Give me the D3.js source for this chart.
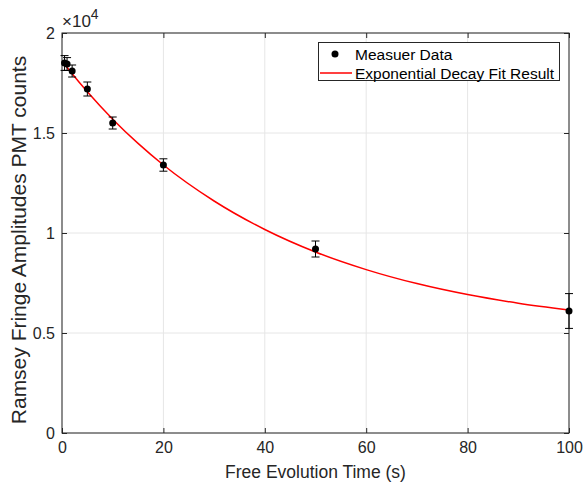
<!DOCTYPE html>
<html><head><meta charset="utf-8">
<script src="https://cdn.jsdelivr.net/npm/d3@7"></script>
<style>body{margin:0;background:#fff;} text{font-family:"Liberation Sans",Arial,sans-serif;}</style>
</head><body><svg id="c" width="584" height="483"></svg>
<script>
// Measured data
const timeS = [0.5, 1, 2, 5, 10, 20, 50, 100];
const amplitude = [18500, 18450, 18100, 17200, 15500, 13400, 9200, 6100];
const errorBar = [370, 320, 300, 350, 300, 310, 400, 870];
// Fit curve
const fitX = [0.5, 2, 5, 10, 15, 20, 30, 40, 50, 60, 70, 80, 90, 100];
const fitY = [18440, 17960, 17060, 15690, 14480, 13400, 11600, 10175, 9050, 8170, 7470, 6920, 6490, 6150];
const xTicks = [0, 20, 40, 60, 80, 100];
const yTicks = [0, 5000, 10000, 15000, 20000];
const yTickLabels = ["0", "0.5", "1", "1.5", "2"];
const legendLabels = ["Measuer Data", "Exponential Decay Fit Result"];

const svg = d3.select("#c");
const L = 62, R = 569, T = 33, B = 433;
const x = d3.scaleLinear().domain([0, 100]).range([L, R]);
const y = d3.scaleLinear().domain([0, 20000]).range([B, T]);
const axisCol = "#262626";

// grid
svg.append("g").selectAll("line").data(xTicks).join("line")
  .attr("x1", d => x(d)).attr("x2", d => x(d)).attr("y1", T).attr("y2", B)
  .attr("stroke", "#e6e6e6").attr("stroke-width", 1);
svg.append("g").selectAll("line").data(yTicks).join("line")
  .attr("y1", d => y(d)).attr("y2", d => y(d)).attr("x1", L).attr("x2", R)
  .attr("stroke", "#e6e6e6").attr("stroke-width", 1);

// axes
const fs = "16px";
const gx = svg.append("g").attr("transform", `translate(0,${B})`)
  .call(d3.axisBottom(x).tickValues(xTicks).tickSizeInner(-5).tickSizeOuter(0).tickPadding(9));
const gy = svg.append("g").attr("transform", `translate(${L},0)`)
  .call(d3.axisLeft(y).tickValues(yTicks).tickFormat((d, i) => yTickLabels[i]).tickSizeInner(-5).tickSizeOuter(0).tickPadding(7));
const gx2 = svg.append("g").attr("transform", `translate(0,${T})`)
  .call(d3.axisTop(x).tickValues(xTicks).tickSizeInner(-5).tickSizeOuter(0).tickFormat(""));
const gy2 = svg.append("g").attr("transform", `translate(${R},0)`)
  .call(d3.axisRight(y).tickValues(yTicks).tickSizeInner(-5).tickSizeOuter(0).tickFormat(""));
[gx, gy, gx2, gy2].forEach(g => {
  g.selectAll("path").attr("stroke", axisCol).attr("stroke-width", 1);
  g.selectAll("line").attr("stroke", axisCol);
  g.selectAll("text").attr("fill", "#262626").style("font-size", fs).style("font-family", "Liberation Sans, Arial, sans-serif");
});
gx.select(".domain").remove(); gy.select(".domain").remove(); gx2.select(".domain").remove(); gy2.select(".domain").remove();
svg.append("rect").attr("x", L).attr("y", T).attr("width", R - L).attr("height", B - T)
  .attr("fill", "none").attr("stroke", axisCol).attr("stroke-width", 1);

// exponent label
const ex = svg.append("text").attr("x", L).attr("y", T - 6).attr("fill", "#262626").style("font-size", "17px");
ex.append("tspan").text("\u00d710");
ex.append("tspan").attr("dy", -8).style("font-size", "14px").text("4");

// axis labels
svg.append("text").attr("x", (L + R) / 2).attr("y", 478).attr("text-anchor", "middle")
  .attr("fill", "#262626").style("font-size", "17.5px").text("Free Evolution Time (s)");
svg.append("text").attr("transform", `translate(26,240) rotate(-90)`).attr("text-anchor", "middle")
  .attr("fill", "#262626").style("font-size", "21px").text("Ramsey Fringe Amplitudes PMT counts");

// fit line
const fitData = fitX.map((d, i) => [d, fitY[i]]);
svg.append("path").datum(fitData)
  .attr("d", d3.line().x(d => x(d[0])).y(d => y(d[1])).curve(d3.curveMonotoneX))
  .attr("fill", "none").attr("stroke", "#ff0000").attr("stroke-width", 1.5);

// error bars
const pts = timeS.map((t, i) => ({t, v: amplitude[i], e: errorBar[i]}));
const eb = svg.append("g").attr("stroke", "#000").attr("stroke-width", 1);
pts.forEach(p => {
  eb.append("line").attr("x1", x(p.t)).attr("x2", x(p.t)).attr("y1", y(p.v - p.e)).attr("y2", y(p.v + p.e));
  eb.append("line").attr("x1", x(p.t) - 4).attr("x2", x(p.t) + 4).attr("y1", y(p.v - p.e)).attr("y2", y(p.v - p.e));
  eb.append("line").attr("x1", x(p.t) - 4).attr("x2", x(p.t) + 4).attr("y1", y(p.v + p.e)).attr("y2", y(p.v + p.e));
});
svg.append("g").selectAll("circle").data(pts).join("circle")
  .attr("cx", d => x(d.t)).attr("cy", d => y(d.v)).attr("r", 3.5).attr("fill", "#000");

// legend
const lg = svg.append("g");
lg.append("rect").attr("x", 318.5).attr("y", 42.5).attr("width", 241).attr("height", 38)
  .attr("fill", "#fff").attr("stroke", axisCol).attr("stroke-width", 1);
lg.append("circle").attr("cx", 335).attr("cy", 54).attr("r", 3.5).attr("fill", "#000");
lg.append("line").attr("x1", 320).attr("x2", 352).attr("y1", 73).attr("y2", 73).attr("stroke", "#ff0000").attr("stroke-width", 1.5);
lg.selectAll("text.l").data(legendLabels).join("text").attr("class", "l")
  .attr("x", 355).attr("y", (d, i) => 59.5 + i * 19).attr("fill", "#000").style("font-size", "15.5px").text(d => d);
</script></body></html>
